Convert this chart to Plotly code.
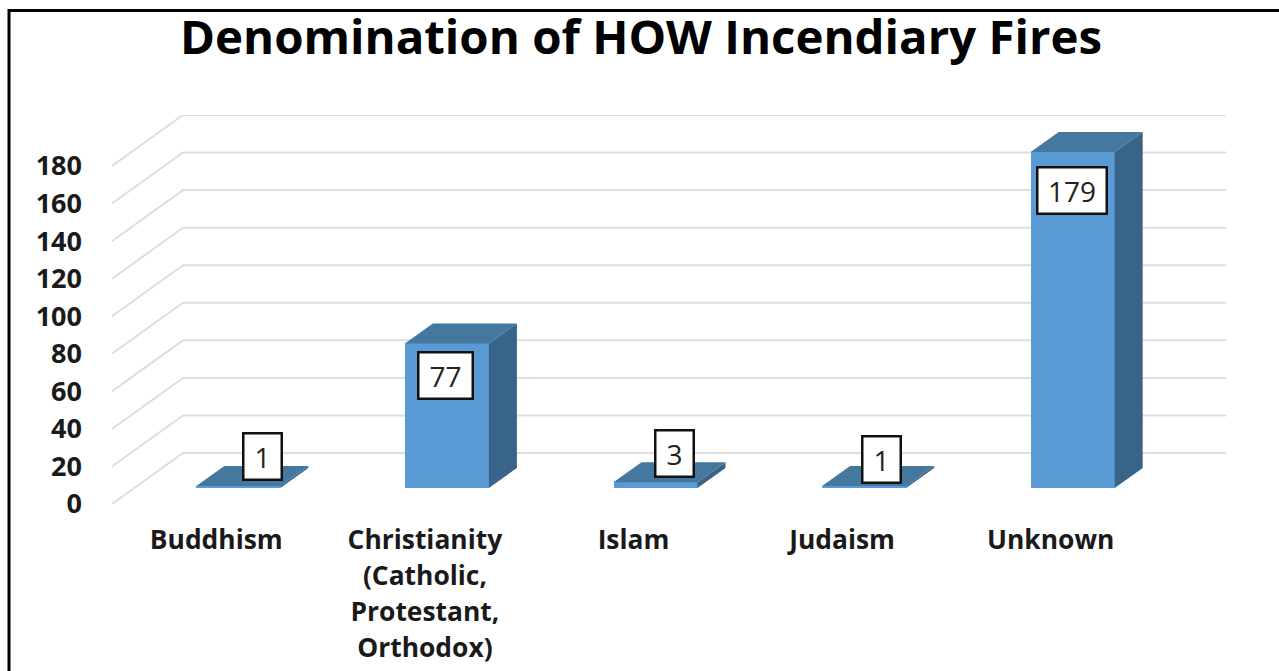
import plotly.graph_objects as go

# ---------- data ----------
categories = ["Buddhism", "Christianity<br>(Catholic,<br>Protestant,<br>Orthodox)", "Islam", "Judaism", "Unknown"]
values = [1, 77, 3, 1, 179]
y_ticks = [0, 20, 40, 60, 80, 100, 120, 140, 160, 180]

# ---------- layout constants (pixels on the 1279x671 page) ----------
W, H = 1279, 671
PX_LEFT, PX_RIGHT, PX_TOP, PX_BOTTOM = 112, 1226, 115, 504
WALL_DX, WALL_DY = 71, 51          # projection of the floor depth
CAT_PX = (PX_RIGHT - WALL_DX - PX_LEFT) / len(categories)
UNIT_PX = (PX_BOTTOM - WALL_DY - PX_TOP) / y_ticks[-1]
BAR_W = 84 / CAT_PX
FLOOR_DX, FLOOR_DY = 22 / CAT_PX, 16 / UNIT_PX   # where the bar's front sits on the floor
DEPTH_DX, DEPTH_DY = 28 / CAT_PX, 20 / UNIT_PX   # bar depth
GRID_DX, GRID_DY = WALL_DX / CAT_PX, WALL_DY / UNIT_PX
LABEL_XSHIFT = [24, -1.5, 19, 17.5, -1]
LABEL_YSHIFT = [30, -32, 29, 26.5, -38.5]
LABEL_W = [36, 52, 36, 36, 67]

FONT = "Open Sans"
x_min, x_max = -0.5, len(categories) - 0.5 + GRID_DX
y_min, y_max = 0, y_ticks[-1] + GRID_DY

fig = go.Figure()

xpos = [i + FLOOR_DX for i in range(len(values))]

# front faces
fig.add_trace(go.Bar(x=xpos, y=values, base=[FLOOR_DY] * len(values), width=BAR_W,
                     marker=dict(color="#5b9bd5", line=dict(width=0)), hoverinfo="x+y", showlegend=False))

# top and side faces computed from the values
top_x, top_y, side_x, side_y = [], [], [], []
for x, v in zip(xpos, values):
    l, r = x - BAR_W / 2, x + BAR_W / 2
    t = v + FLOOR_DY
    top_x += [l, r, r + DEPTH_DX, l + DEPTH_DX, l, None]
    top_y += [t, t, t + DEPTH_DY, t + DEPTH_DY, t, None]
    side_x += [r, r + DEPTH_DX, r + DEPTH_DX, r, r, None]
    side_y += [FLOOR_DY, FLOOR_DY + DEPTH_DY, t + DEPTH_DY, t, FLOOR_DY, None]
fig.add_trace(go.Scatter(x=side_x, y=side_y, mode="lines", fill="toself", fillcolor="#38648a",
                         line=dict(width=0, color="#38648a"), hoverinfo="skip", showlegend=False))
fig.add_trace(go.Scatter(x=top_x, y=top_y, mode="lines", fill="toself", fillcolor="#44789f",
                         line=dict(width=0, color="#44789f"), hoverinfo="skip", showlegend=False))

# 3-D style gridlines: side wall + back wall
shapes = []
for v in y_ticks:
    shapes.append(dict(type="path", layer="below", xref="x", yref="y",
                       path=f"M {x_min} {v} L {x_min + GRID_DX} {v + GRID_DY} L {x_max} {v + GRID_DY}",
                       line=dict(color="#dedede", width=2)))

# picture border (left and top only, cropped by the page)
def fx(p):
    return (p - PX_LEFT) / (PX_RIGHT - PX_LEFT)
def fy(p):
    return (PX_BOTTOM - p) / (PX_BOTTOM - PX_TOP)
shapes.append(dict(type="path", layer="above", xref="paper", yref="paper",
                   path=f"M {fx(9)} {fy(H + 5)} L {fx(9)} {fy(10.5)} L {fx(W + 5)} {fy(10.5)}",
                   line=dict(color="#000000", width=3)))

# data labels
annotations = []
for x, v, dx, dy, w in zip(xpos, values, LABEL_XSHIFT, LABEL_YSHIFT, LABEL_W):
    annotations.append(dict(x=x, y=v + FLOOR_DY, xref="x", yref="y", text=str(v), showarrow=False,
                            xshift=dx, yshift=dy, xanchor="center", yanchor="middle",
                            width=w, height=44, align="center", valign="middle",
                            bgcolor="#ffffff", bordercolor="#111111", borderwidth=2.5, borderpad=0,
                            font=dict(family=FONT, size=28, color="#222222")))

ticktext = ["<br>".join(f'<span style="font-size:26.4px">{p}</span>' for p in c.split("<br>")) for c in categories]

fig.update_layout(
    width=W, height=H, autosize=False,
    margin=dict(l=PX_LEFT, r=W - PX_RIGHT, t=PX_TOP, b=H - PX_BOTTOM, pad=0),
    paper_bgcolor="#ffffff", plot_bgcolor="rgba(0,0,0,0)",
    title=dict(text="<b>Denomination of HOW Incendiary Fires</b>", x=641 / W, xanchor="center",
               y=1 - 37 / H, yanchor="middle", font=dict(family=FONT, size=47.4, color="#000000")),
    xaxis=dict(range=[x_min, x_max], tickmode="array", tickvals=list(range(len(categories))), ticktext=ticktext,
               tickfont=dict(family=FONT, size=27.7, color="#1a1a1a", weight="bold"), automargin=False,
               showgrid=False, zeroline=False, showline=False, ticks="", ticklabelstandoff=16, tickangle=0),
    yaxis=dict(range=[y_min, y_max], tickmode="array", tickvals=y_ticks, ticktext=[str(t) for t in y_ticks],
               tickfont=dict(family=FONT, size=27, color="#1a1a1a", weight="bold"), automargin=False,
               showgrid=False, zeroline=False, showline=False, ticks="", ticklabelstandoff=29),
    shapes=shapes, annotations=annotations, showlegend=False, bargap=0,
)

fig.write_html("out.html", config={"displayModeBar": False},
               post_script="document.body.style.margin='0';document.body.style.overflow='hidden';")
